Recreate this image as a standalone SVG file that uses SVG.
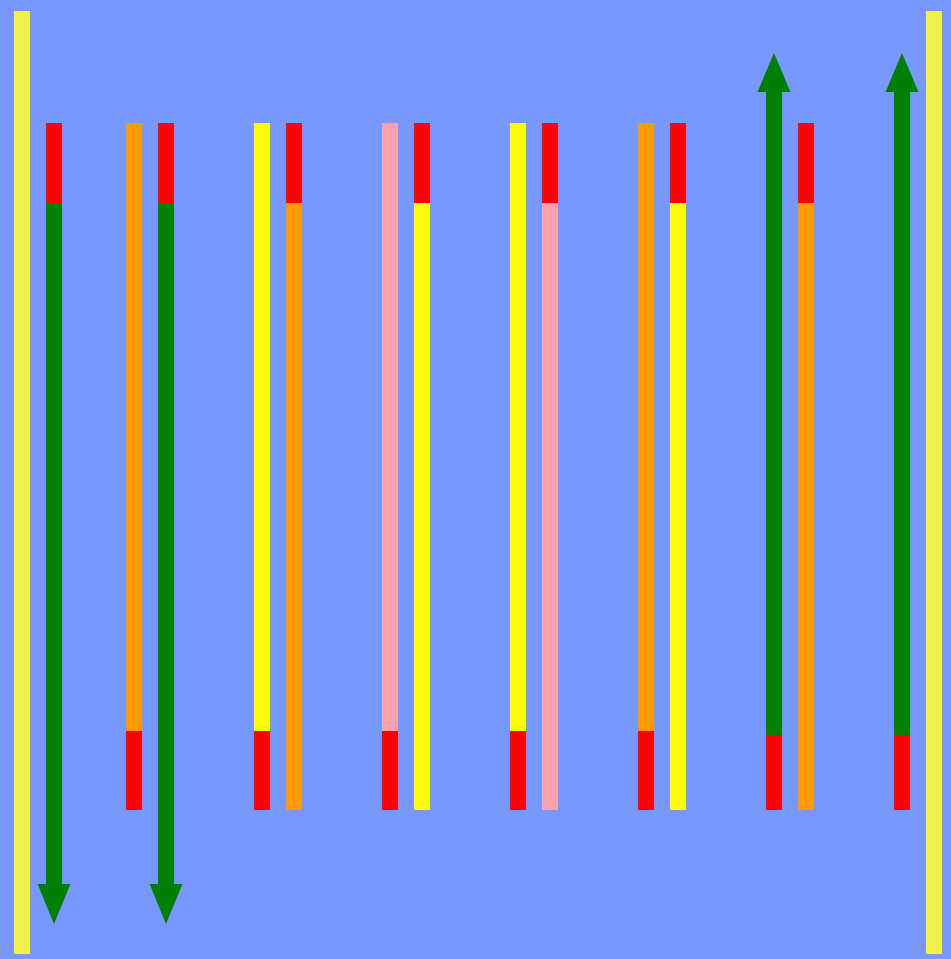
<svg xmlns="http://www.w3.org/2000/svg" width="951" height="959" viewBox="0 0 951 959">
  <style>
    .rail { fill: #eeee55; stroke: #ffff00; stroke-width: 1; }
    .red { fill: #ff0000; }
    .orange { fill: #ff9900; }
    .yellow { fill: #ffff00; }
    .pink { fill: #ffa0b0; }
    .arrow { fill: #008000; }
  </style>
  <rect width="951" height="959" fill="#7799ff"/>

  <!-- side rails -->
  <g id="rail-left"><rect class="rail" x="14.5" y="11.5" width="15" height="942"/></g>
  <g id="rail-right"><rect class="rail" x="926.5" y="11.5" width="15" height="942"/></g>

  <!-- bars -->
  <g id="bar-46"><rect class="red" x="46" y="123" width="16" height="80"/></g>
  <g id="bar-126"><rect class="orange" x="126" y="123" width="16" height="608"/><rect class="red" x="126" y="731" width="16" height="79"/></g>
  <g id="bar-158"><rect class="red" x="158" y="123" width="16" height="80"/></g>
  <g id="bar-254"><rect class="yellow" x="254" y="123" width="16" height="608"/><rect class="red" x="254" y="731" width="16" height="79"/></g>
  <g id="bar-286"><rect class="red" x="286" y="123" width="16" height="80"/><rect class="orange" x="286" y="203" width="16" height="607"/></g>
  <g id="bar-382"><rect class="pink" x="382" y="123" width="16" height="608"/><rect class="red" x="382" y="731" width="16" height="79"/></g>
  <g id="bar-414"><rect class="red" x="414" y="123" width="16" height="80"/><rect class="yellow" x="414" y="203" width="16" height="607"/></g>
  <g id="bar-510"><rect class="yellow" x="510" y="123" width="16" height="608"/><rect class="red" x="510" y="731" width="16" height="79"/></g>
  <g id="bar-542"><rect class="red" x="542" y="123" width="16" height="80"/><rect class="pink" x="542" y="203" width="16" height="607"/></g>
  <g id="bar-638"><rect class="orange" x="638" y="123" width="16" height="608"/><rect class="red" x="638" y="731" width="16" height="79"/></g>
  <g id="bar-670"><rect class="red" x="670" y="123" width="16" height="80"/><rect class="yellow" x="670" y="203" width="16" height="607"/></g>
  <g id="bar-766"><rect class="red" x="766" y="735" width="16" height="75"/></g>
  <g id="bar-798"><rect class="red" x="798" y="123" width="16" height="80"/><rect class="orange" x="798" y="203" width="16" height="607"/></g>
  <g id="bar-894"><rect class="red" x="894" y="735" width="16" height="75"/></g>

  <!-- arrows -->
  <g id="connectors">
    <path class="arrow" d="M46 203 H62 V884 H70.5 L54 924 L37.5 884 H46 Z"/>
    <path class="arrow" d="M158 203 H174 V884 H182.5 L166 924 L149.5 884 H158 Z"/>
    <path class="arrow" d="M766 735 V92 H757.5 L774 53 L790.5 92 H782 V735 Z"/>
    <path class="arrow" d="M894 735 V92 H885.5 L902 53 L918.5 92 H910 V735 Z"/>
  </g>
</svg>
